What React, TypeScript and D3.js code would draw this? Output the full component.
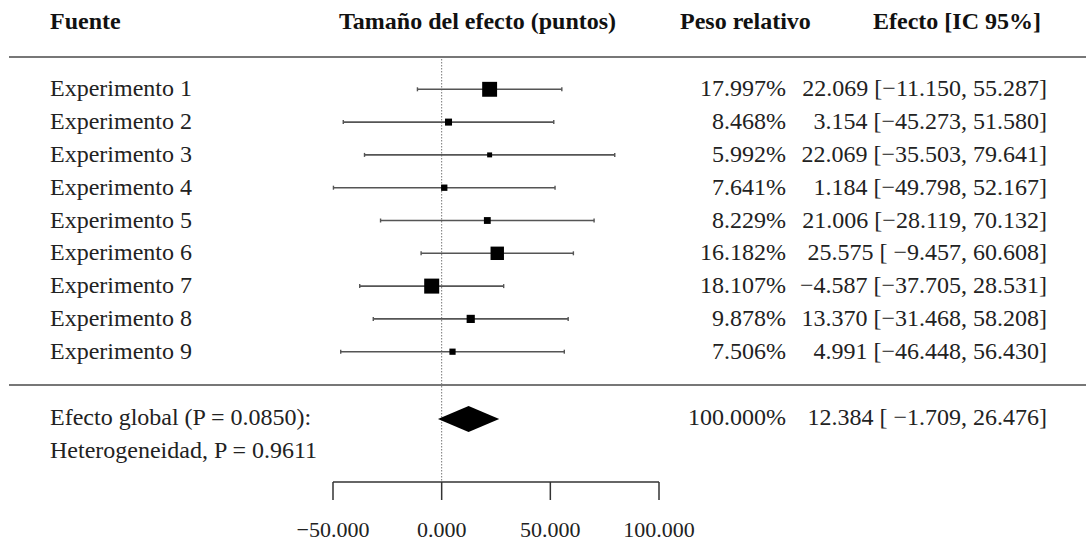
import React from "react";
import * as d3 from "d3";

// Study rows
const studies = [
  "Experimento 1",
  "Experimento 2",
  "Experimento 3",
  "Experimento 4",
  "Experimento 5",
  "Experimento 6",
  "Experimento 7",
  "Experimento 8",
  "Experimento 9",
];
const effects = [22.069, 3.154, 22.069, 1.184, 21.006, 25.575, -4.587, 13.37, 4.991];
const lowerCI = [-11.15, -45.273, -35.503, -49.798, -28.119, -9.457, -37.705, -31.468, -46.448];
const upperCI = [55.287, 51.58, 79.641, 52.167, 70.132, 60.608, 28.531, 58.208, 56.43];
const weights = [17.997, 8.468, 5.992, 7.641, 8.229, 16.182, 18.107, 9.878, 7.506];

// Pooled estimate
const pooledEffect = 12.384;
const pooledLower = -1.709;
const pooledUpper = 26.476;
const pooledWeight = 100.0;
const pooledLabel = "Efecto global (P = 0.0850):";
const heterogeneityLabel = "Heterogeneidad, P = 0.9611";

// Column headers and axis ticks
const headers = ["Fuente", "Tamaño del efecto (puntos)", "Peso relativo", "Efecto [IC 95%]"];
const axisTicks = [-50, 0, 50, 100];

const W = 1086;
const H = 543;
const FONT = "'Liberation Serif', 'Times New Roman', serif";

const fmt3 = d3.format(".3f");
const num = (v: number) => fmt3(v).replace("-", "\u2212");
const ciText = (e: number, lo: number, hi: number) => {
  const l = num(lo);
  const pad = l.length < 7 ? " " : "";
  return `${num(e)} [${pad}${l}, ${num(hi)}]`;
};

export default function App() {
  const x = d3.scaleLinear().domain([-50, 100]).range([333, 659]);
  const y = d3.scaleLinear().domain([0, studies.length - 1]).range([89.3, 351.7]);
  const side = d3.scaleLinear().domain([0, d3.max(weights) as number]).range([0, 15]);

  const pooledY = 419;
  const hetY = 452;
  const axisY = 482;
  const topLineY = 57;
  const midLineY = 385;

  const labelX = 50;
  const weightRight = 786;
  const effectRight = 1047;

  const diamond = d3.line<[number, number]>()([
    [x(pooledLower), pooledY],
    [x(pooledEffect), pooledY - 13],
    [x(pooledUpper), pooledY],
    [x(pooledEffect), pooledY + 13],
  ]) as string;

  return (
    <svg
      width={W}
      height={H}
      style={{ position: "absolute", left: 0, top: 0, background: "#fff" }}
      fontFamily={FONT}
    >
      <rect width={W} height={H} fill="#fff" />

      {/* header */}
      <g fontWeight="bold" fontSize={24} fill="#111">
        <text x={50} y={29}>{headers[0]}</text>
        <text x={339} y={29}>{headers[1]}</text>
        <text x={680} y={29}>{headers[2]}</text>
        <text x={873} y={29}>{headers[3]}</text>
      </g>

      {/* separators */}
      <line x1={9} x2={W} y1={topLineY} y2={topLineY} stroke="#777" strokeWidth={2.2} />
      <line x1={9} x2={W} y1={midLineY} y2={midLineY} stroke="#777" strokeWidth={2.2} />

      {/* zero reference */}
      <line
        x1={x(0)}
        x2={x(0)}
        y1={topLineY + 2}
        y2={axisY}
        stroke="#777"
        strokeWidth={1}
        strokeDasharray="1.5,1.5"
      />

      {/* studies */}
      {studies.map((s, i) => {
        const cy = y(i);
        const sz = side(weights[i]);
        return (
          <g key={s}>
            <line x1={x(lowerCI[i])} x2={x(upperCI[i])} y1={cy} y2={cy} stroke="#555" strokeWidth={1.6} />
            <line x1={x(lowerCI[i])} x2={x(lowerCI[i])} y1={cy - 2} y2={cy + 2} stroke="#555" strokeWidth={1.4} />
            <line x1={x(upperCI[i])} x2={x(upperCI[i])} y1={cy - 2} y2={cy + 2} stroke="#555" strokeWidth={1.4} />
            <rect x={x(effects[i]) - sz / 2} y={cy - sz / 2} width={sz} height={sz} fill="#000" />
            <text x={labelX} y={cy + 7} fontSize={24} fill="#222">{s}</text>
            <text x={weightRight} y={cy + 7} fontSize={24} fill="#222" textAnchor="end">
              {fmt3(weights[i])}%
            </text>
            <text x={effectRight} y={cy + 7} fontSize={24} fill="#222" textAnchor="end">
              {ciText(effects[i], lowerCI[i], upperCI[i])}
            </text>
          </g>
        );
      })}

      {/* pooled */}
      <path d={diamond} fill="#000" />
      <text x={labelX} y={pooledY + 6} fontSize={24} fill="#222">{pooledLabel}</text>
      <text x={labelX} y={hetY + 6} fontSize={24} fill="#222">{heterogeneityLabel}</text>
      <text x={weightRight} y={pooledY + 6} fontSize={24} fill="#222" textAnchor="end">
        {fmt3(pooledWeight)}%
      </text>
      <text x={effectRight} y={pooledY + 6} fontSize={24} fill="#222" textAnchor="end">
        {ciText(pooledEffect, pooledLower, pooledUpper)}
      </text>

      {/* axis */}
      <line x1={x(axisTicks[0])} x2={x(axisTicks[axisTicks.length - 1])} y1={axisY} y2={axisY} stroke="#333" strokeWidth={1.5} />
      {axisTicks.map((t) => (
        <g key={t}>
          <line x1={x(t)} x2={x(t)} y1={axisY} y2={axisY + 18} stroke="#333" strokeWidth={1.5} />
          <text x={x(t)} y={537} fontSize={22} fill="#222" textAnchor="middle">
            {num(t)}
          </text>
        </g>
      ))}
    </svg>
  );
}
